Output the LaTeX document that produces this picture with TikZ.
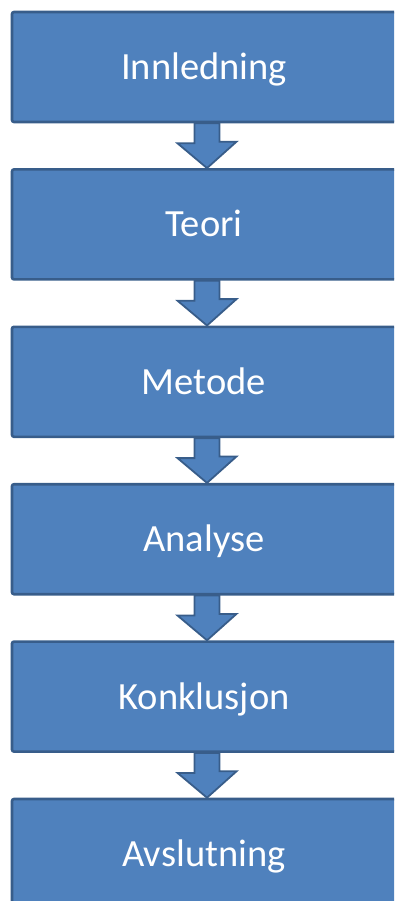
\documentclass[tikz,border=0pt]{standalone}
\usepackage{fontspec}
\setmainfont{Carlito}

\definecolor{boxfill}{HTML}{4F81BD}
\definecolor{boxline}{HTML}{385D8A}

\tikzset{
    stage/.style={
        draw=boxline, line width=2.6pt, fill=boxfill, rounded corners=2pt,
        minimum width=384pt, minimum height=110pt,
        text=white, font=\fontsize{38.5}{44}\selectfont,
        text height=25pt, text depth=0pt
    },
    flowarrow/.style={draw=boxline, line width=1.8pt, fill=boxfill}
}

\begin{document}
\begin{tikzpicture}
    \useasboundingbox (0,0) rectangle (394pt,-901pt);
    \clip (0,0) rectangle (394pt,-901pt);
    \foreach \txt [count=\i] in {Innledning, Teori, Metode, Analyse, Konklusjon, Avslutning} {
        \node [stage] (b\i) at ({204pt}, {-67pt - 157.4pt*(\i - 1)}) {\txt};
    }
    \foreach \i in {1, ..., 5} {
        \pgfmathtruncatemacro\j{\i + 1}
        \draw [flowarrow]
            ([xshift=-9.5pt]b\i.south) -- ++(0, -20pt) -- ++(-17pt, 0)
            -- ([xshift=3pt]b\j.north) -- ++(29.5pt, 26.4pt) -- ++(-17pt, 0)
            -- ([xshift=15.5pt]b\i.south) -- cycle
        ;
    }
\end{tikzpicture}
\end{document}
